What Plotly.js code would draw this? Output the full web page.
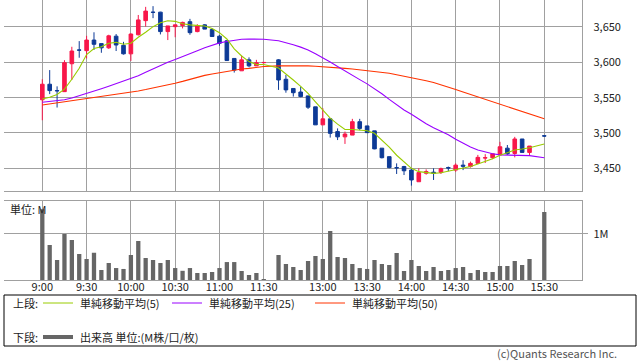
<!DOCTYPE html>
<html><head><meta charset="utf-8">
<script src="https://cdn.plot.ly/plotly-3.0.1.min.js"></script>
<style>html,body{margin:0;padding:0;background:#fff;overflow:hidden}#chart{width:638px;height:362px}</style>
</head><body><div id="chart"></div>
<script>
// ---- data (5-minute bars) ----
const times = [
 "9:00","9:05","9:10","9:15","9:20","9:25","9:30","9:35","9:40","9:45",
 "9:50","9:55","10:00","10:05","10:10","10:15","10:20","10:25","10:30","10:35",
 "10:40","10:45","10:50","10:55","11:00","11:05","11:10","11:15","11:20","11:25",
 "11:30",
 "12:30","12:35","12:40","12:45","12:50","12:55","13:00","13:05","13:10",
 "13:15","13:20","13:25","13:30","13:35","13:40","13:45","13:50","13:55","14:00",
 "14:05","14:10","14:15","14:20","14:25","14:30","14:35","14:40","14:45","14:50",
 "14:55","15:00","15:05","15:10","15:15","15:20",
 "15:30"];
const openP = [
 3547,3569,3560,3558.5,3598,3617.5,3616.5,3631.5,3626.5,3620.5,
 3637,3624,3612,3639,3659,3671,3671,3643.5,3650.5,3652,
 3657.5,3643.5,3653,3646.5,3637,3630.5,3605.5,3588,3603.5,3595,
 3599.5,
 3603.5,3576,3563,3558,3552.5,3537,3511.5,3520,3502,
 3494.5,3497,3516,3510,3503,3478.5,3466.5,3451,3452.5,3447.5,
 3431,3443,3444.5,3444,3451,3447.5,3454.5,3452.5,3457,3464.5,
 3465,3469,3478.5,3471,3491.5,3472.5,
 3496];
const highP = [
 3576,3589,3566,3603,3622,3630,3637.5,3642.5,3626.5,3639,
 3640,3629,3641,3667,3678.5,3679.5,3671.5,3651.5,3653,3657.5,
 3661.5,3654,3654,3648,3638.5,3631.5,3605.5,3609.5,3607,3603.5,
 3600.5,
 3604.5,3582,3563,3565.5,3552.5,3537,3535,3520,3506.5,
 3502,3520,3520,3510,3503,3478.5,3466.5,3457,3453.5,3450,
 3450,3448.5,3450,3451,3452.5,3457,3461.5,3459.5,3469,3470,
 3470.5,3487.5,3483,3494.5,3491.5,3481.5,
 3497];
const lowP = [
 3518,3555,3536,3558,3575,3606.5,3605.5,3617.5,3613.5,3619,
 3616,3611,3602,3638,3650.5,3662.5,3639.5,3631.5,3635.5,3648,
 3639,3642.5,3647,3636,3623.5,3602,3585.5,3588,3593,3595,
 3598.5,
 3561,3557,3551.5,3550.5,3534,3511.5,3511.5,3493.5,3490,
 3484.5,3497,3504,3500,3477,3464,3450,3442,3440.5,3425.5,
 3431,3441,3433.5,3442,3446,3445,3447.5,3451,3456,3457.5,
 3463,3469,3469,3465.5,3472.5,3468,
 3494.5];
const closeP = [
 3569,3560,3559.7,3599.5,3616,3617.2,3631.5,3625.5,3620.5,3637.5,
 3624.5,3612,3640,3660,3672.5,3670.7,3643.5,3651.5,3653,3656.5,
 3642,3651.5,3647,3636.5,3627,3602.5,3589,3603.5,3595,3599.5,
 3599.8,
 3575,3561,3557,3551.5,3536.5,3511.5,3520,3499.5,3494.5,
 3498.5,3516,3506.5,3500.5,3477.5,3465,3451,3450.7,3446.5,3433.5,
 3444,3445.5,3443,3449.5,3450.5,3454.5,3453,3457,3465.5,3465,
 3470.5,3480.5,3470.5,3491.5,3472.5,3481.5,
 3495.7];
const volumeM = [
 1.54,0.76,0.435,1.0,0.87,0.565,0.457,0.594,0.217,0.37,
 0.26,0.24,0.543,0.848,0.478,0.435,0.37,0.435,0.26,0.2,
 0.26,0.152,0.152,0.174,0.26,0.39,0.39,0.196,0.109,0.152,
 0.022,
 0.543,0.348,0.283,0.217,0.413,0.522,0.457,1.065,0.5,
 0.478,0.348,0.26,0.24,0.435,0.348,0.326,0.587,0.196,0.435,
 0.304,0.196,0.283,0.196,0.217,0.26,0.283,0.152,0.217,0.174,
 0.174,0.304,0.304,0.413,0.326,0.457,
 1.48];
const ma5 = [
 3548,3550.5,3554.5,3562,3576,3591.5,3611,3619.5,3622,3627,
 3628.3,3625.5,3627,3635.5,3642.5,3650.5,3656,3658.8,3658,3654.5,
 3653,3652,3651.4,3648,3642,3633,3619,3609,3601,3597,
 3597,
 3592,3584,3575,3566,3556,3544,3532,3521,3512.5,
 3505,3505,3504,3503.2,3499.5,3490,3480,3468.5,3459,3450,
 3445.3,3444,3442.8,3443.7,3445.8,3447.8,3450,3452.5,3456,3459.8,
 3463.5,3468.5,3472.5,3475.8,3477.3,3479.2,
 3484.5];
const ma25 = [
 3543.5,3544.5,3545.8,3547,3549.5,3552.5,3556,3559,3562.5,3566,
 3569.5,3573,3576.5,3581,3586,3591,3595.5,3600,3604,3608.5,
 3612.5,3616.5,3620.5,3624,3627.5,3629.5,3631.5,3632.7,3633,3633,
 3632.6,
 3630.5,3628,3625,3621.5,3617.5,3612,3606.5,3600.5,3594,
 3587.5,3581.5,3575.5,3569.5,3563,3555.5,3547.5,3540,3532.5,3526.5,
 3519.5,3513,3507.5,3502.5,3497.5,3491,3485.5,3480,3476,3473,
 3470.5,3469,3468.8,3468.8,3468.5,3468,
 3465];
const ma50 = [
 3539.5,3541,3542.5,3543.5,3545,3546.5,3548,3549.5,3551,3552.5,
 3554.5,3556,3557.5,3559.5,3561.5,3563.5,3566,3568,3570.5,3573,
 3576,3579,3581.5,3583.5,3585.5,3587,3588.5,3590.5,3591.5,3593,
 3594,
 3595,3595.2,3595.3,3595.2,3595,3594.5,3594,3593,3592,
 3591.5,3590.5,3589.5,3588,3587,3586,3584.5,3582.5,3580.5,3579,
 3576.5,3574,3571.5,3568.5,3565,3561.5,3558,3554.5,3551.5,3548,
 3544.5,3541,3538,3534,3530.5,3527,
 3520];
const tickTimes = ["9:00","9:30","10:00","10:30","11:00","11:30","13:00","13:30","14:00","14:30","15:00","15:30"];
const priceTicks = [3450,3500,3550,3600,3650];
const volumeTicks = [1];
const volumeTickText = ["1M"];
const seriesNames = ["単純移動平均(5)","単純移動平均(25)","単純移動平均(50)"];
const volumeName = "出来高 単位:(M株/口/枚)";
const upperLabel = "上段:";
const lowerLabel = "下段:";
const unitLabel = "単位: M";
const copyright = "(c)Quants Research Inc.";

// ---- layout helpers ----
const W = 638, H = 362;
const LUNCH_SLOTS = 2; // lunch break shown as one empty slot
function slotOf(t){
  const [h,m] = t.split(':').map(Number);
  const mins = h*60+m;
  if (mins <= 690) return (mins-540)/5;
  return (690-540)/5 + LUNCH_SLOTS + (mins-750)/5;
}
const xs = times.map(slotOf);
const tickPos = tickTimes.map(slotOf);
const px = X => X/W, py = Y => 1 - Y/H;

const RED = '#f8174a', BLUE = '#0d3a96';
const GREEN = '#99cc00', PURPLE = '#9900ff', ORANGE = '#ff3300', VOLC = '#666666';
const GRID = '#a0a0a0';
const FONT = '"Noto Sans CJK JP","Noto Sans",sans-serif';

const traces = [
  {type:'candlestick', x:xs, open:openP, high:highP, low:lowP, close:closeP,
   xaxis:'x', yaxis:'y', whiskerwidth:0, hoverinfo:'skip', showlegend:false,
   increasing:{line:{color:RED,width:1}, fillcolor:RED},
   decreasing:{line:{color:BLUE,width:1}, fillcolor:BLUE}},
  {type:'scatter', mode:'lines', x:xs, y:ma50, xaxis:'x', yaxis:'y', line:{color:ORANGE,width:1.1}, hoverinfo:'skip', showlegend:false},
  {type:'scatter', mode:'lines', x:xs, y:ma25, xaxis:'x', yaxis:'y', line:{color:PURPLE,width:1.1}, hoverinfo:'skip', showlegend:false},
  {type:'scatter', mode:'lines', x:xs, y:ma5, xaxis:'x', yaxis:'y', line:{color:GREEN,width:1.1}, hoverinfo:'skip', showlegend:false},
  {type:'bar', x:xs, y:volumeM, xaxis:'x2', yaxis:'y2', marker:{color:VOLC}, hoverinfo:'skip', showlegend:false}
];

const xRange = [-5.19, 73.15];
const xBase = {range:xRange, domain:[px(4), px(582.3)], tickmode:'array', tickvals:tickPos,
  showgrid:true, gridcolor:GRID, gridwidth:1, zeroline:false, showline:true, mirror:true,
  linecolor:GRID, linewidth:1, ticks:'', fixedrange:true};

const layout = {
  width:W, height:H, margin:{l:0,r:0,t:0,b:0}, paper_bgcolor:'#fff', plot_bgcolor:'#fff',
  showlegend:false, boxgap:0.3, bargap:0.42,
  font:{family:FONT, size:11, color:'#222'},
  xaxis: Object.assign({}, xBase, {anchor:'y', showticklabels:false, rangeslider:{visible:false}}),
  xaxis2: Object.assign({}, xBase, {anchor:'y2', showticklabels:true, ticktext:tickTimes,
     ticklabelstandoff:-3, tickfont:{family:FONT,size:11,color:'#222'}}),
  yaxis: {domain:[py(190.5), 1], range:[3418.6, 3688.2], side:'right', anchor:'x',
     tickmode:'array', tickvals:priceTicks, tickformat:',', showgrid:true, gridcolor:GRID,
     zeroline:false, showline:true, mirror:false, linecolor:GRID, ticks:'outside', ticklen:5,
     tickcolor:'rgba(0,0,0,0)', ticklabelstandoff:3, fixedrange:true,
     tickfont:{family:FONT,size:11,color:'#222'}},
  yaxis2: {domain:[py(280), py(201)], range:[0, 1.717], side:'right', anchor:'x2',
     tickmode:'array', tickvals:volumeTicks, ticktext:volumeTickText, showgrid:true, gridcolor:GRID,
     zeroline:false, showline:true, mirror:false, linecolor:GRID, ticks:'outside', ticklen:5,
     tickcolor:GRID, ticklabelstandoff:3, fixedrange:true,
     tickfont:{family:FONT,size:11,color:'#222'}},
  shapes: [
    {type:'rect', xref:'paper', yref:'paper', x0:px(4), x1:px(636), y0:py(346), y1:py(295), line:{color:'#000',width:1}},
    {type:'line', xref:'paper', yref:'paper', x0:px(43), x1:px(73), y0:py(303), y1:py(303), line:{color:GREEN,width:1}},
    {type:'line', xref:'paper', yref:'paper', x0:px(172), x1:px(202), y0:py(303), y1:py(303), line:{color:PURPLE,width:1}},
    {type:'line', xref:'paper', yref:'paper', x0:px(315), x1:px(345), y0:py(303), y1:py(303), line:{color:ORANGE,width:1}},
    {type:'line', xref:'paper', yref:'paper', x0:px(43), x1:px(73), y0:py(337), y1:py(337), line:{color:VOLC,width:4}}
  ],
  annotations: [
    {text:unitLabel, x:px(8), y:py(209), xanchor:'left', yanchor:'middle'},
    {text:upperLabel, x:px(11), y:py(303), xanchor:'left', yanchor:'middle'},
    {text:seriesNames[0], x:px(78), y:py(303), xanchor:'left', yanchor:'middle'},
    {text:seriesNames[1], x:px(207), y:py(303), xanchor:'left', yanchor:'middle'},
    {text:seriesNames[2], x:px(350), y:py(303), xanchor:'left', yanchor:'middle'},
    {text:lowerLabel, x:px(11), y:py(337), xanchor:'left', yanchor:'middle'},
    {text:volumeName, x:px(78), y:py(337), xanchor:'left', yanchor:'middle'},
    {text:copyright, x:px(618), y:py(362), xanchor:'right', yanchor:'bottom', borderpad:0, font:{family:FONT,size:11,color:'#555'}}
  ].map(a => Object.assign({xref:'paper', yref:'paper', showarrow:false, font:{family:FONT,size:11,color:'#222'}}, a))
};

Plotly.newPlot('chart', traces, layout, {staticPlot:true, displayModeBar:false});
</script>
</body></html>
